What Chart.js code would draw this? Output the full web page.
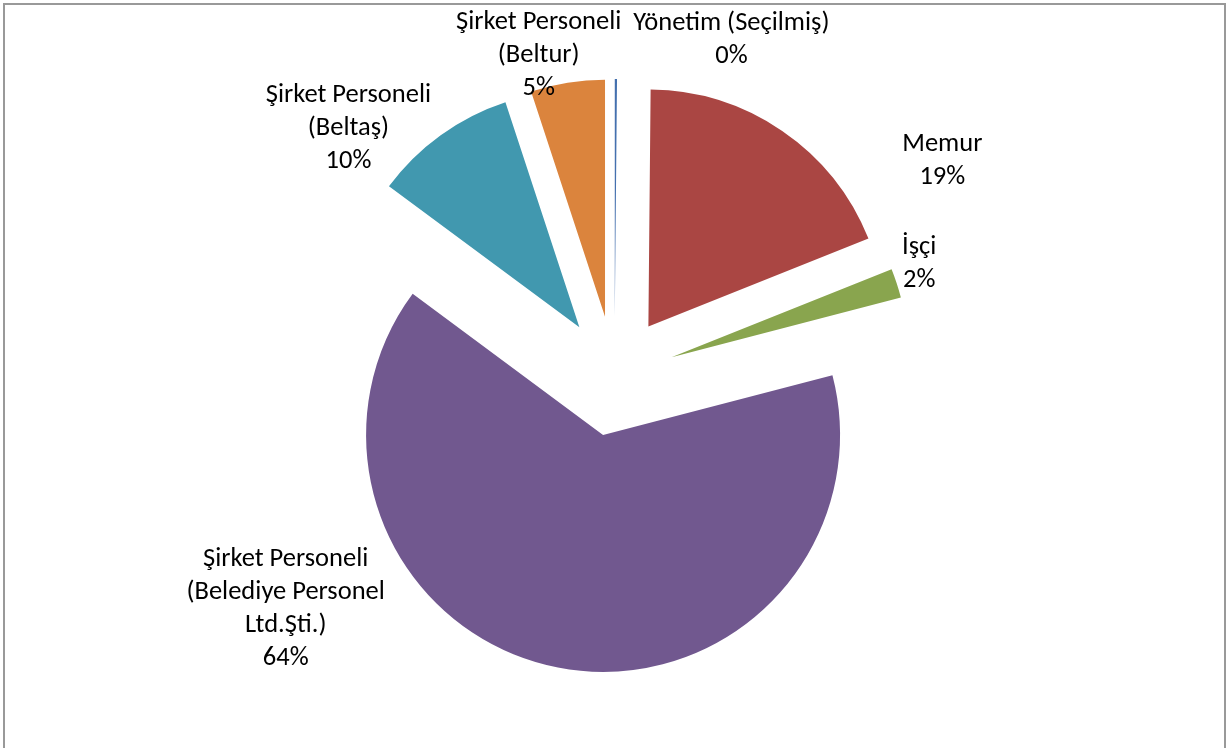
<!DOCTYPE html>
<html>
<head>
<meta charset="utf-8">
<script src="https://cdn.jsdelivr.net/npm/chart.js@4"></script>
<style>
    html, body { margin: 0; padding: 0; background: #fff; overflow: hidden; }
    #wrap { position: relative; width: 1229px; height: 748px; }
    #frame {
        position: absolute; left: 3px; top: 3px; width: 1223px; height: 780px;
        border: 2px solid #999; box-sizing: border-box; pointer-events: none;
    }
</style>
</head>
<body>
<div id="wrap">
    <canvas id="pieChart"></canvas>
    <div id="frame"></div>
</div>
<script>
// Staff categories, clockwise from 12 o'clock
const categories = [
    ['Yönetim (Seçilmiş)'],
    ['Memur'],
    ['İşçi'],
    ['Şirket Personeli', '(Belediye Personel', 'Ltd.Şti.)'],
    ['Şirket Personeli', '(Beltaş)'],
    ['Şirket Personeli', '(Beltur)']
];
const shares = [0.15, 18.8, 2.0, 64.2, 9.8, 5.05];

const sliceColors = ['#4470AE', '#AA4643', '#89A54E', '#71588F', '#4198AF', '#DB843D'];

// label spot: angle (deg, clockwise from top) and distance as a multiple of the radius
const labelAngles = [19.2, 56.7, 69.8, 234.7, 313.0, 346.7];
const labelDist = [1.50, 1.655, 1.37, 1.70, 1.535, 1.39];

const EXPLODE = 60;
const LABEL_FONT = '26.5px Carlito, Lato, sans-serif';
const LINE_H = 33;

// every slice is pulled out from the centre by the same amount
const explodePlugin = {
    id: 'explode',
    beforeDatasetDraw(chart, args) {
        const ctx = chart.ctx;
        args.meta.data.forEach(arc => {
            const mid = (arc.startAngle + arc.endAngle) / 2;
            ctx.save();
            ctx.translate(Math.cos(mid) * EXPLODE, Math.sin(mid) * EXPLODE);
            arc.draw(ctx);
            ctx.restore();
        });
        return false;
    }
};

const labelPlugin = {
    id: 'sliceLabels',
    afterDatasetsDraw(chart) {
        const ctx = chart.ctx;
        const meta = chart.getDatasetMeta(0);
        const total = shares.reduce((a, b) => a + b, 0);
        ctx.save();
        ctx.font = LABEL_FONT;
        ctx.fillStyle = '#000';
        ctx.textAlign = 'center';
        ctx.textBaseline = 'middle';
        meta.data.forEach((arc, i) => {
            const a = labelAngles[i] * Math.PI / 180;
            const r = arc.outerRadius * labelDist[i];
            const cx = arc.x + Math.sin(a) * r;
            const cy = arc.y - Math.cos(a) * r;
            const lines = categories[i].concat([Math.round(shares[i] / total * 100) + '%']);
            const top = cy - (lines.length - 1) * LINE_H / 2;
            lines.forEach((t, k) => ctx.fillText(t, cx, top + k * LINE_H));
        });
        ctx.restore();
    }
};

const ctx = document.getElementById('pieChart');
new Chart(ctx, {
    type: 'pie',
    data: {
        labels: categories,
        datasets: [{
            data: shares,
            backgroundColor: sliceColors,
            borderWidth: 0
        }]
    },
    options: {
        responsive: true,
        maintainAspectRatio: false,
        animation: false,
        radius: 237,
        layout: { padding: { top: 4 } },
        plugins: {
            legend: { display: false },
            tooltip: { enabled: false }
        }
    },
    plugins: [explodePlugin, labelPlugin]
});
</script>
</body>
</html>
